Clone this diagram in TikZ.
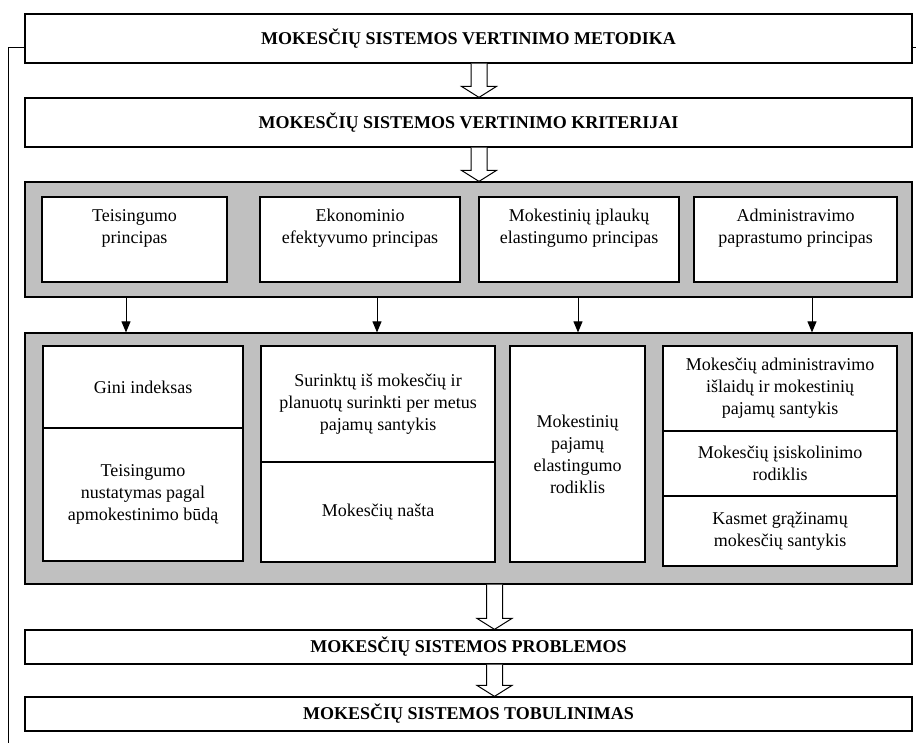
\documentclass[tikz,border=0pt]{standalone}
\usepackage{fontspec}
\setmainfont{Liberation Serif}
\usetikzlibrary{arrows.meta,calc}
\definecolor{panelgray}{HTML}{C0C0C0}

\tikzset{
  box/.style={draw, fill=white, line width=1.2pt, inner sep=2pt, align=center,
    font=\fontsize{18}{22}\selectfont},
  titlebox/.style={box, minimum width=887pt, minimum height=49pt,
    font=\fontsize{18}{22}\selectfont\bfseries},
  panel/.style={draw, fill=panelgray, line width=1.2pt, minimum width=887pt},
  cell/.style 2 args={box, minimum width=#1, minimum height=#2},
  topcell/.style={text depth=26pt},
  hollow/.style={draw, fill=white, line width=1pt},
}
% hollow arrow from one node down to the next at a given x
\newcommand{\hollowarrow}[3]{%
  \filldraw[hollow] let \p1=(#3,0 |- #1.south), \p2=(#3,0 |- #2.north) in
    (\x1-8pt,\y1) -- (\x1-8pt,\y2+11pt) -- (\x1-17.5pt,\y2+11pt) -- (\x2,\y2)
    -- (\x1+17.5pt,\y2+11pt) -- (\x1+8pt,\y2+11pt) -- (\x1+8pt,\y1);
}

\begin{document}
\begin{tikzpicture}[x=1pt,y=-1pt,>={Triangle[length=11pt,width=9pt]}]
  \useasboundingbox (0,0) rectangle (916,743);
  \coordinate (loopend) at (8,743);
  \coordinate (stubend) at (916,47.5);

  % headings
  \node[titlebox] (metodika) at (468.5,38.5) {MOKESČIŲ SISTEMOS VERTINIMO METODIKA};
  \node[titlebox] (kriterijai) at (468.5,122.5) {MOKESČIŲ SISTEMOS VERTINIMO KRITERIJAI};

  % principles
  \node[panel, minimum height=115pt] (principai) at (468.5,239.5) {};
  \node[cell={185pt}{85pt}, topcell] (teisingumas) at (134.5,239.5) {Teisingumo\\principas};
  \node[cell={200pt}{85pt}, topcell] (efektyvumas) at (360,239.5) {Ekonominio\\efektyvumo principas};
  \node[cell={200pt}{85pt}, topcell] (elastingumas) at (579,239.5) {Mokestinių įplaukų\\elastingumo principas};
  \node[cell={203pt}{85pt}, topcell] (paprastumas) at (795.5,239.5) {Administravimo\\paprastumo principas};

  % indicators
  \node[panel, minimum height=251pt] (rodikliai) at (468.5,458.5) {};
  \node[cell={200pt}{82pt}] (gini) at (143,387) {Gini indeksas};
  \node[cell={200pt}{133pt}] (budas) at (143,494.5) {Teisingumo\\nustatymas pagal\\apmokestinimo būdą};
  \node[cell={234pt}{116pt}] (surinkta) at (378,404) {Surinktų iš mokesčių ir\\planuotų surinkti per metus\\pajamų santykis};
  \node[cell={234pt}{100pt}] (nasta) at (378,512) {Mokesčių našta};
  \node[cell={135pt}{216pt}] (elastrod) at (577.5,454) {Mokestinių\\pajamų\\elastingumo\\rodiklis};
  \node[cell={234pt}{85pt}] (islaidos) at (780,388.5) {Mokesčių administravimo\\išlaidų ir mokestinių\\pajamų santykis};
  \node[cell={234pt}{65pt}] (isiskolinimas) at (780,463.5) {Mokesčių įsiskolinimo\\rodiklis};
  \node[cell={234pt}{70pt}] (grazinami) at (780,531) {Kasmet grąžinamų\\mokesčių santykis};

  % results
  \node[titlebox, minimum height=34pt] (problemos) at (468.5,647) {MOKESČIŲ SISTEMOS PROBLEMOS};
  \node[titlebox, minimum height=34pt] (tobulinimas) at (468.5,714) {MOKESČIŲ SISTEMOS TOBULINIMAS};

  % connectors
  \hollowarrow{metodika}{kriterijai}{479}
  \hollowarrow{kriterijai}{principai}{479}
  \hollowarrow{rodikliai}{problemos}{494.5}
  \hollowarrow{problemos}{tobulinimas}{494.5}
  \foreach \x in {126,377,578,812}
    \draw[->, line width=0.9pt] (\x,0 |- principai.south) -- (\x,0 |- rodikliai.north);
  \draw[line width=1pt] ($(metodika.west)+(0,9.5)$) -| (loopend);
  \draw[line width=1pt] ($(metodika.east)+(0,9)$) -- (stubend);
\end{tikzpicture}
\end{document}
